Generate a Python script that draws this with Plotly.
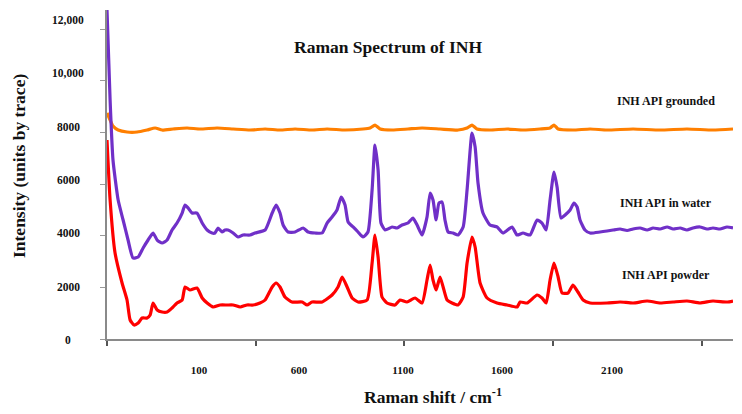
import plotly.graph_objects as go

# ---------------- data ----------------
shift_water = [-346, -331, -317, -292, -268, -244, -220, -195, -171, -147, -123, -103, -79, -55, -31, -7,
               18, 32, 47, 66, 90, 115, 139, 163, 177, 192, 211, 226, 240, 265, 289, 313, 347, 371, 420,
               454, 473, 492, 507, 531, 565, 604, 628, 662, 696, 720, 744, 768, 788, 807, 822, 846, 870,
               894, 918, 938, 952, 967, 981, 1001, 1035, 1059, 1083, 1112, 1136, 1156, 1180, 1204, 1219,
               1233, 1248, 1262, 1277, 1291, 1306, 1330, 1354, 1379, 1398, 1422, 1437, 1451, 1475, 1509,
               1543, 1572, 1616, 1640, 1669, 1703, 1737, 1761, 1781, 1800, 1819, 1834, 1853, 1873, 1897,
               1916, 1931, 1945, 1969, 1994, 2042, 2076, 2105, 2139, 2173, 2202, 2236, 2270, 2299, 2333,
               2367, 2396, 2430, 2463, 2492, 2526, 2560, 2589, 2623, 2657, 2686]
int_water = [12736, 9252, 6929, 5381, 4607, 3832, 3136, 3174, 3523, 3832, 4103, 3832, 3716, 3832, 4219, 4490,
             4877, 5187, 5071, 4877, 4877, 4490, 4219, 4103, 4103, 4297, 4142, 4219, 4219, 4103, 3948, 4026,
             4026, 4103, 4219, 4877, 5187, 4877, 4413, 4142, 4142, 4297, 4142, 4103, 4103, 4490, 4723, 4994,
             5497, 5187, 4529, 4336, 4142, 3948, 4142, 5768, 7510, 6542, 4490, 4219, 4336, 4297, 4413, 4490,
             4684, 4413, 4026, 4723, 5652, 5381, 4607, 5265, 5303, 4607, 4142, 4103, 4026, 4336, 5768, 7974,
             7432, 6039, 4877, 4413, 4336, 4103, 4336, 4026, 4103, 4026, 4607, 4490, 4219, 5381, 6465, 5884,
             4684, 4800, 4994, 5265, 5110, 4607, 4219, 4103, 4142, 4180, 4219, 4258, 4200, 4258, 4297, 4219,
             4297, 4258, 4336, 4258, 4297, 4219, 4297, 4336, 4258, 4297, 4258, 4336, 4297]

shift_powder = [-346, -331, -307, -273, -249, -234, -215, -195, -176, -152, -137, -123, -103, -79, -55, -31,
                -7, 18, 32, 56, 90, 115, 139, 168, 202, 236, 265, 299, 332, 362, 395, 420, 454, 473, 492,
                516, 550, 599, 623, 647, 696, 744, 773, 793, 817, 841, 870, 914, 938, 952, 967, 986, 1010,
                1049, 1073, 1107, 1146, 1180, 1204, 1219, 1233, 1248, 1267, 1282, 1301, 1325, 1354, 1379,
                1398, 1422, 1437, 1461, 1495, 1543, 1592, 1640, 1655, 1689, 1737, 1761, 1781, 1800, 1819,
                1839, 1858, 1887, 1911, 1935, 1960, 1994, 2076, 2139, 2202, 2270, 2333, 2396, 2463, 2526,
                2589, 2657, 2686]
int_powder = [7703, 5381, 3329, 2168, 1510, 735, 542, 619, 813, 813, 929, 1394, 1123, 1045, 1045, 1200,
              1394, 1510, 2013, 1897, 1974, 1587, 1394, 1239, 1316, 1316, 1316, 1239, 1316, 1316, 1394, 1510,
              2013, 2168, 2013, 1626, 1432, 1432, 1316, 1432, 1432, 1703, 2013, 2400, 2013, 1587, 1432, 1510,
              2942, 4026, 3174, 1626, 1394, 1316, 1510, 1432, 1587, 1394, 2284, 2865, 2284, 1897, 2400, 2013,
              1510, 1394, 1316, 1626, 2942, 3948, 3561, 2168, 1587, 1394, 1316, 1239, 1432, 1394, 1703, 1587,
              1394, 2284, 2942, 2400, 1781, 1781, 2090, 1819, 1510, 1394, 1394, 1432, 1394, 1471, 1394, 1432,
              1471, 1394, 1471, 1432, 1471, 1432]

shift_ground = [-346, -331, -317, -292, -249, -200, -152, -113, -79, -26, 42, 105, 187, 265, 347, 420, 492,
                565, 647, 720, 807, 894, 928, 952, 977, 1035, 1112, 1180, 1267, 1354, 1398, 1422, 1446,
                1509, 1592, 1669, 1751, 1800, 1819, 1839, 1911, 1994, 2076, 2202, 2333, 2463, 2589, 2686]
int_ground = [8748, 8478, 8245, 8090, 8013, 8013, 8090, 8168, 8090, 8129, 8168, 8129, 8168, 8129, 8090, 8129,
              8090, 8129, 8090, 8129, 8090, 8129, 8168, 8284, 8129, 8090, 8129, 8168, 8129, 8090, 8168, 8284,
              8129, 8090, 8129, 8090, 8129, 8168, 8284, 8129, 8090, 8129, 8090, 8129, 8090, 8129, 8090, 8129]

series_names = ["INH API grounded", "INH API in water", "INH API powder"]
series_colors = ["#ff7f00", "#7030c8", "#ff0000"]

x_label_vals = [100, 584, 1088, 1567, 2100]
x_label_text = ["100", "600", "1100", "1600", "2100"]
x_tick_marks = [-346, 376, 1093, 1814, 2536]
y_ticks = [0, 2000, 4000, 6000, 8000, 10000, 12000]
y_tick_text = ["0", "2000", "4000", "6000", "8000", "10,000", "12,000"]

title_text = "Raman Spectrum of INH"
x_title = "Raman shift / cm<sup>-1</sup>"
y_title = "Intensity (units by trace)"

# ---------------- figure ----------------
FONT = "Liberation Serif"
INK = "#111"
fig = go.Figure()
for xs, ys, name, col in [(shift_ground, int_ground, series_names[0], series_colors[0]),
                          (shift_water, int_water, series_names[1], series_colors[1]),
                          (shift_powder, int_powder, series_names[2], series_colors[2])]:
    fig.add_trace(go.Scatter(x=xs, y=ys, mode="lines", name=name,
                             line=dict(color=col, width=3.2, shape="spline", smoothing=0.5),
                             showlegend=False, hoverinfo="skip"))

fig.update_layout(
    width=742, height=414,
    margin=dict(l=107, r=9, t=10, b=75),
    paper_bgcolor="white", plot_bgcolor="white",
    xaxis=dict(range=[-346, 2686], showgrid=False, zeroline=False,
               showline=True, linecolor="#8a8a8a", linewidth=2,
               ticks="", tickvals=x_label_vals,
               ticktext=["<b>%s</b>" % t for t in x_label_text],
               tickfont=dict(family=FONT, size=11, color=INK),
               ticklabelstandoff=20,
               minor=dict(tickvals=x_tick_marks, ticks="outside", ticklen=5,
                          tickwidth=1.5, tickcolor="#555", showgrid=False)),
    yaxis=dict(range=[0, 12736], showgrid=False, zeroline=False,
               showline=True, linecolor="#8a8a8a", linewidth=2,
               ticks="outside", ticklen=5, tickwidth=1, tickcolor="#999",
               tickvals=y_ticks, showticklabels=False),
)

ann = []
# y labels: slightly wider spacing than the tick marks in the reference
for i, (v, t) in enumerate(zip(y_ticks, y_tick_text)):
    ann.append(dict(x=-0.0623, xref="paper", y=v, yref="y", yshift=i * 1.667 - 1,
                    text="<b>%s</b>" % t, showarrow=False,
                    xanchor="center", yanchor="middle",
                    font=dict(family=FONT, size=11.5, color=INK)))
ann.append(dict(x=0.449, y=0.8875, xref="paper", yref="paper", text="<b>%s</b>" % title_text,
                showarrow=False, xanchor="center", yanchor="middle",
                font=dict(family=FONT, size=17.5, color=INK)))
ann.append(dict(x=0.5208, y=-0.1733, xref="paper", yref="paper", text="<b>%s</b>" % x_title,
                showarrow=False, xanchor="center", yanchor="middle",
                font=dict(family=FONT, size=17.5, color=INK)))
ann.append(dict(x=-0.1406, y=0.5258, xref="paper", yref="paper", text="<b>%s</b>" % y_title,
                showarrow=False, xanchor="center", yanchor="middle", textangle=-90,
                font=dict(family=FONT, size=17.5, color=INK)))
for name, yy in zip(series_names, [0.7234, 0.4134, 0.1945]):
    ann.append(dict(x=0.893, y=yy, xref="paper", yref="paper", text="<b>%s</b>" % name,
                    showarrow=False, xanchor="center", yanchor="middle",
                    font=dict(family=FONT, size=12, color=INK)))
fig.update_layout(annotations=ann)

fig.write_html("out.html")
